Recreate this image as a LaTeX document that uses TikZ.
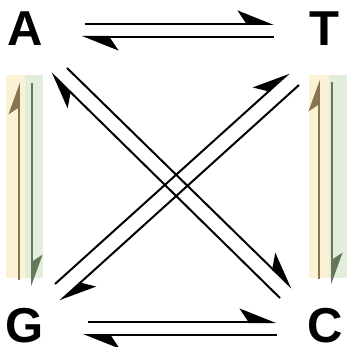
\documentclass[tikz,border=0pt]{standalone}
\usepackage{fontspec}
\setmainfont{Liberation Sans}
\usetikzlibrary{arrows.meta}
\definecolor{ybar}{HTML}{FCF1D4}
\definecolor{gbar}{HTML}{E1EEDA}
\definecolor{yarr}{HTML}{857650}
\definecolor{garr}{HTML}{66765C}
\begin{document}
\begin{tikzpicture}[x=1pt,y=-1pt,
  base/.style={font=\bfseries\fontsize{49}{49}\selectfont, inner sep=0pt},
  rxn/.style={line width=2pt, -{Stealth[harpoon,length=34pt,width=27pt,inset=9pt]}},
  sidearr/.style={line width=1.7pt, -{Stealth[harpoon,length=29pt,width=21pt,inset=7pt]}},
  ybox/.style={fill=ybar, draw=none},
  gbox/.style={fill=gbar, draw=none}]
\useasboundingbox (0,0) rectangle (347,347);
% letters
\node[base] (A) at (25,29) {A};
\node[base] (T) at (324,29) {T};
\node[base] (G) at (25,325.5) {G};
\node[base] (C) at (325.5,325.5) {C};
% side bars
\fill[ybox] (6,75) rectangle (25,278);
\fill[gbox] (25,75) rectangle (43,278);
\fill[ybox] (309,75) rectangle (329,278);
\fill[gbox] (329,75) rectangle (347,278);
% side arrow endpoints
\coordinate (ly1) at (19,280); \coordinate (ly2) at (19,83);
\coordinate (lg1) at (32,83);  \coordinate (lg2) at (32,286);
\coordinate (ry1) at (319,279); \coordinate (ry2) at (319,80);
\coordinate (rg1) at (332,82);  \coordinate (rg2) at (332,284);
\draw[sidearr, yarr] (ly1) -- (ly2);
\draw[sidearr, garr] (lg1) -- (lg2);
\draw[sidearr, yarr] (ry1) -- (ry2);
\draw[sidearr, garr] (rg1) -- (rg2);
% horizontal pairs
\coordinate (at1) at (85,24);  \coordinate (at2) at (274,24);
\coordinate (ta1) at (274,37); \coordinate (ta2) at (82,37);
\coordinate (gc1) at (88,322); \coordinate (gc2) at (276,322);
\coordinate (cg1) at (277,335); \coordinate (cg2) at (83,335);
\draw[rxn] (at1) -- (at2);
\draw[rxn] (ta1) -- (ta2);
\draw[rxn] (gc1) -- (gc2);
\draw[rxn] (cg1) -- (cg2);
% diagonal pairs
\coordinate (ac1) at (67,68);  \coordinate (ac2) at (292,288);
\coordinate (ca1) at (280,298); \coordinate (ca2) at (51,73);
\coordinate (gt1) at (55,284); \coordinate (gt2) at (289,73);
\coordinate (tg1) at (299,85); \coordinate (tg2) at (60,301);
\draw[rxn] (ac1) -- (ac2);
\draw[rxn] (ca1) -- (ca2);
\draw[rxn] (gt1) -- (gt2);
\draw[rxn] (tg1) -- (tg2);
\end{tikzpicture}
\end{document}
